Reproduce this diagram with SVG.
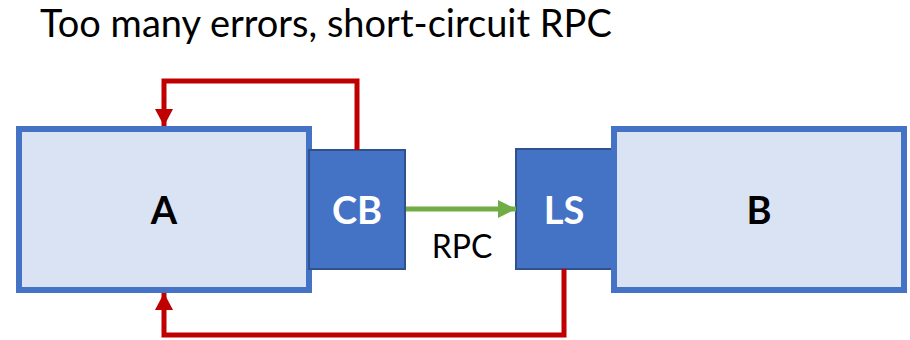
<svg xmlns="http://www.w3.org/2000/svg" width="910" height="340" viewBox="0 0 910 340">
<defs>
<style>
.big{fill:#DAE3F3;stroke:#4472C4;stroke-width:6}
.small{fill:#4472C4;stroke:#2F528F;stroke-width:2}
.lbl{font-family:Lato,"Liberation Sans",sans-serif;font-weight:bold;font-size:38px;text-anchor:middle}
.red{fill:none;stroke:#C00000;stroke-width:5}
.grn{fill:none;stroke:#70AD47;stroke-width:5}
</style>
<marker id="ar" markerUnits="userSpaceOnUse" markerWidth="18" markerHeight="18" refX="17" refY="9" orient="auto"><path d="M0,0 L17,9 L0,18 Z" fill="#C00000"/></marker>
<marker id="ag" markerUnits="userSpaceOnUse" markerWidth="18" markerHeight="18" refX="18" refY="9" orient="auto"><path d="M0,0 L18,9 L0,18 Z" fill="#70AD47"/></marker>
</defs>
<rect width="910" height="340" fill="#fff"/>
<text x="40" y="37" font-family="Lato,'Liberation Sans',sans-serif" font-size="38" fill="#000">Too many errors,  short-circuit RPC</text>
<g id="A"><rect class="big" x="19" y="129" width="290" height="161"/><text class="lbl" x="164" y="224">A</text></g>
<g id="CB"><rect class="small" x="309" y="150" width="96" height="119"/><text class="lbl" x="357" y="224" fill="#fff">CB</text></g>
<g id="LS"><rect class="small" x="516" y="149" width="96" height="120"/><text class="lbl" x="564" y="224" fill="#fff">LS</text></g>
<g id="B"><rect class="big" x="614" y="129" width="290" height="161"/><text class="lbl" x="759" y="224">B</text></g>
<g id="connectors">
<path class="red" d="M357,150 V81 H164 V126" marker-end="url(#ar)"/>
<path class="red" d="M564,269 V335 H164 V293" marker-end="url(#ar)"/>
<path class="grn" d="M406,209 H516" marker-end="url(#ag)"/>
<text x="462" y="258" font-family="Lato,'Liberation Sans',sans-serif" font-size="32" text-anchor="middle" fill="#000">RPC</text>
</g>
</svg>
